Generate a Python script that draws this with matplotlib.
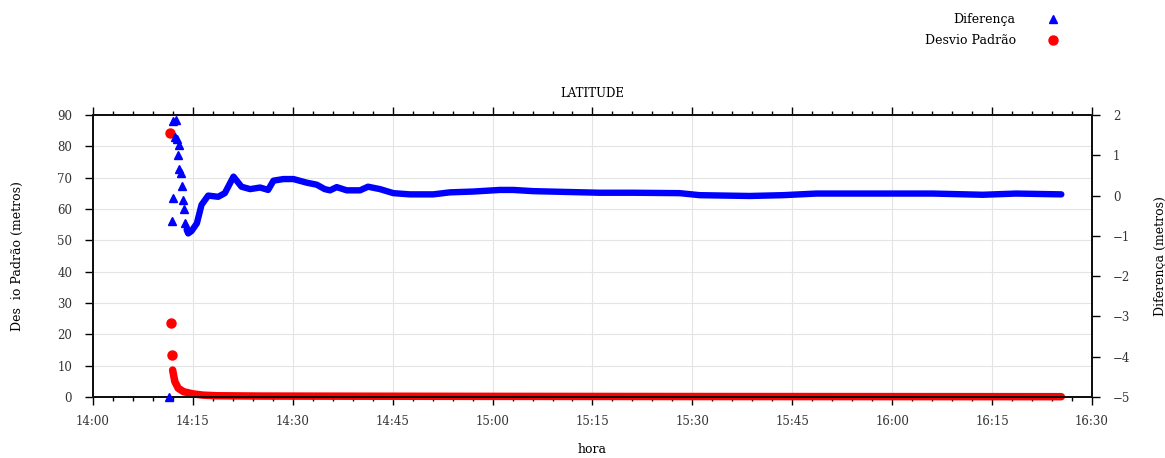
import matplotlib
matplotlib.use("Agg")
import matplotlib.pyplot as plt  # noqa
import matplotlib.dates as mdates
from matplotlib.lines import Line2D
import numpy as np
import pandas as pd

plt.rcParams["font.family"] = ["DejaVu Serif", "Liberation Serif"]

DAY = "2000-01-01 "

# Diferenca (metros), eixo direito
dif_hora = [
    "14:11:28", "14:11:48", "14:11:57", "14:11:59", "14:12:18", "14:12:28",
    "14:12:34", "14:12:42", "14:12:52", "14:12:58", "14:13:10", "14:13:18",
    "14:13:28", "14:13:36", "14:13:46", "14:14:04", "14:14:18", "14:14:48",
    "14:15:36", "14:16:18", "14:17:18", "14:18:48", "14:19:48", "14:21:06",
    "14:22:18", "14:23:36", "14:25:06", "14:26:18", "14:27:06", "14:28:36",
    "14:30:06", "14:32:06", "14:33:36", "14:34:48", "14:35:36", "14:36:36",
    "14:38:06", "14:40:06", "14:41:18", "14:43:06", "14:45:06", "14:47:36",
    "14:51:06", "14:53:36", "14:57:06", "15:01:06", "15:03:06", "15:06:06",
    "15:11:06", "15:16:06", "15:21:06", "15:28:06", "15:31:06", "15:38:36",
    "15:43:36", "15:48:36", "15:56:06", "16:06:06", "16:13:36", "16:18:36",
    "16:25:24",
]
dif_valor = [
    -5.00, -0.63, -0.05, 1.85, 1.46, 1.88,
    1.40, 1.00, 1.25, 0.65, 0.55, 0.25,
    -0.11, -0.33, -0.69, -0.85, -0.94, -0.88,
    -0.69, -0.23, 0.00, -0.03, 0.06, 0.47,
    0.22, 0.16, 0.20, 0.14, 0.37, 0.41,
    0.41, 0.32, 0.27, 0.16, 0.13, 0.21,
    0.13, 0.13, 0.22, 0.16, 0.06, 0.03,
    0.03, 0.08, 0.10, 0.14, 0.14, 0.11,
    0.09, 0.07, 0.07, 0.06, 0.01, -0.01,
    0.01, 0.05, 0.05, 0.05, 0.02, 0.05,
    0.03,
]

# Desvio padrao (metros), eixo esquerdo
dp_hora = [
    "14:11:34", "14:11:42", "14:11:48", "14:11:58", "14:12:06", "14:12:18",
    "14:12:48", "14:13:36", "14:15:00", "14:16:30", "14:18:36", "14:25:00",
    "14:40:00", "15:00:00", "15:30:00", "16:25:24",
]
dp_valor = [
    84.2, 23.5, 13.4, 8.6, 7.0, 4.9,
    2.8, 1.7, 1.0, 0.6, 0.4, 0.3,
    0.25, 0.2, 0.15, 0.1,
]

dif_t = pd.to_datetime([DAY + h for h in dif_hora])
dp_t = pd.to_datetime([DAY + h for h in dp_hora])
dif_v = np.array(dif_valor)
dp_v = np.array(dp_valor)
# a partir daqui os pontos ficam colados e formam uma faixa continua
dif_faixa = dif_t >= pd.Timestamp(DAY + "14:14:00")
dp_faixa = dp_t >= pd.Timestamp(DAY + "14:11:55")

fig = plt.figure(figsize=(11.65, 4.58), dpi=100)
ax = fig.add_axes([0.0798, 0.1332, 0.8575, 0.6157])
ax2 = ax.twinx()

azul = "#0000ff"
verm = "#ff0000"

ax2.plot(dif_t[dif_faixa], dif_v[dif_faixa], color=azul, lw=4.6,
         solid_capstyle="round", solid_joinstyle="round", zorder=2)
ax2.plot(dif_t[~dif_faixa], dif_v[~dif_faixa], ls="none", marker="^",
         ms=5.5, color=azul, zorder=3, clip_on=False)
ax.plot(dp_t[dp_faixa], dp_v[dp_faixa], color=verm, lw=5.4,
        solid_capstyle="round", solid_joinstyle="round", zorder=2,
        clip_on=False)
ax.plot(dp_t[~dp_faixa], dp_v[~dp_faixa], ls="none", marker="o", ms=6.5,
        color=verm, zorder=3, clip_on=False)

# eixos
ax.set_xlim(pd.Timestamp(DAY + "14:00"), pd.Timestamp(DAY + "16:30"))
ax.set_ylim(0, 90)
ax2.set_ylim(-5, 2)
ax.set_yticks(range(0, 91, 10))
ax2.set_yticks(range(-5, 3))
ax.xaxis.set_major_locator(mdates.MinuteLocator(byminute=[0, 15, 30, 45]))
ax.xaxis.set_minor_locator(mdates.MinuteLocator(byminute=range(0, 60, 3)))
ax.xaxis.set_major_formatter(mdates.DateFormatter("%H:%M"))

for a in (ax, ax2):
    for s in a.spines.values():
        s.set_linewidth(1.4)
        s.set_color("#111111")
ax.tick_params(axis="x", which="both", top=True, direction="out",
               labelsize=8.5, labelcolor="#333333", pad=7)
ax.tick_params(axis="x", which="major", length=6, width=1)
ax.tick_params(axis="x", which="minor", length=3, width=1)
ax.tick_params(axis="y", direction="out", length=6, width=1, right=False,
               labelsize=8.5, labelcolor="#333333", pad=9)
ax2.tick_params(axis="y", direction="out", length=6, width=1,
                labelsize=8.5, labelcolor="#333333", pad=9)

ax.grid(True, which="major", color="#e4e4e4", lw=0.8)
ax.set_axisbelow(True)

ax.set_title("LATITUDE", fontsize=8.5, pad=13)
ax.set_xlabel("hora", fontsize=9, labelpad=11)
ax.set_ylabel("Des  io Padrão (metros)", fontsize=9, labelpad=24)
ax2.set_ylabel("Diferença (metros)", fontsize=9, labelpad=17)

handles = [
    Line2D([], [], ls="none", marker="^", ms=5.5, color=azul),
    Line2D([], [], ls="none", marker="o", ms=6.5, color=verm),
]
fig.legend(handles, ["Diferença", "Desvio Padrão"], loc="upper right",
           bbox_to_anchor=(1072 / 1165, 1 - 2 / 458), frameon=False,
           markerfirst=False, fontsize=9, handlelength=1.2,
           handletextpad=2.4, labelspacing=0.65)

fig.savefig("out.png", dpi=100)
